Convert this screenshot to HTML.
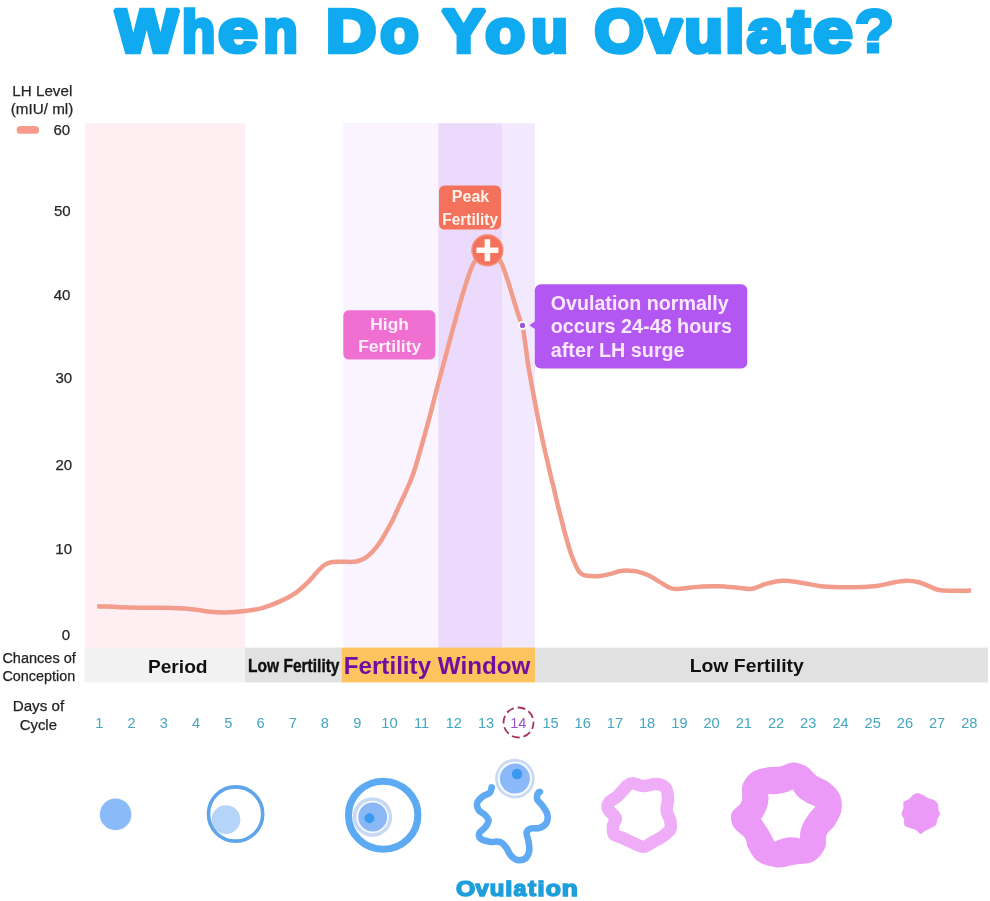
<!DOCTYPE html>
<html lang="en"><head><meta charset="utf-8"><title>When Do You Ovulate?</title>
<style>html,body{margin:0;padding:0;background:#fff}body{width:990px;height:901px;overflow:hidden}svg{display:block}text{font-family:'Liberation Sans', sans-serif}</style></head><body>
<svg width="990" height="901" viewBox="0 0 990 901">
<rect width="990" height="901" fill="#ffffff"/>
<clipPath id="tc"><rect x="100" y="7.3" width="800" height="60"/></clipPath>
<g clip-path="url(#tc)" font-weight="bold" font-size="61.6" fill="#0faaef" stroke="#0faaef" stroke-width="4.6" stroke-linejoin="miter" stroke-miterlimit="1.6" paint-order="stroke">
<text y="52.3"><tspan x="115.54" textLength="62.43" lengthAdjust="spacingAndGlyphs">W</tspan><tspan x="182.11" textLength="33.16" lengthAdjust="spacingAndGlyphs">h</tspan><tspan x="218.10" textLength="39.85" lengthAdjust="spacingAndGlyphs" stroke-width="4.2">e</tspan><tspan x="263.41" textLength="34.15" lengthAdjust="spacingAndGlyphs">n</tspan></text>
<text y="52.3"><tspan x="326.04" textLength="50.28" lengthAdjust="spacingAndGlyphs">D</tspan><tspan x="380.24" textLength="38.41" lengthAdjust="spacingAndGlyphs">o</tspan></text>
<text y="52.3"><tspan x="441.99" textLength="43.25" lengthAdjust="spacingAndGlyphs">Y</tspan><tspan x="485.26" textLength="39.79" lengthAdjust="spacingAndGlyphs">o</tspan><tspan x="531.29" textLength="36.56" lengthAdjust="spacingAndGlyphs">u</tspan></text>
<text y="52.3"><tspan x="594.40" textLength="49.37" lengthAdjust="spacingAndGlyphs">O</tspan><tspan x="645.44" textLength="36.55" lengthAdjust="spacingAndGlyphs">v</tspan><tspan x="684.41" textLength="38.33" lengthAdjust="spacingAndGlyphs">u</tspan><tspan x="725.32" textLength="19.03" lengthAdjust="spacingAndGlyphs">l</tspan><tspan x="746.68" textLength="36.51" lengthAdjust="spacingAndGlyphs" stroke-width="4.2">a</tspan><tspan x="787.99" textLength="22.01" lengthAdjust="spacingAndGlyphs">t</tspan><tspan x="813.33" textLength="39.50" lengthAdjust="spacingAndGlyphs" stroke-width="4.2">e</tspan><tspan x="854.51" textLength="39.73" lengthAdjust="spacingAndGlyphs" stroke-width="3.0">?</tspan></text>
</g>
<rect x="84.7" y="123.2" width="160.3" height="525" fill="#ffeef2"/>
<rect x="343.3" y="123.2" width="95" height="525" fill="#f9f4ff"/>
<rect x="438.3" y="123.2" width="64.2" height="525" fill="#ecdafd"/>
<rect x="502.5" y="123.2" width="32.5" height="525" fill="#f3e9fe"/>
<g font-size="15" fill="#262626" stroke="#262626" stroke-width="0.25">
<text x="12.3" y="95.9" font-size="15" fill="#262626" font-weight="normal" text-anchor="start" textLength="60.0" lengthAdjust="spacingAndGlyphs" >LH Level</text>
<text x="10.8" y="113.7" font-size="15" fill="#262626" font-weight="normal" text-anchor="start" textLength="62.5" lengthAdjust="spacingAndGlyphs" >(mIU/ ml)</text>
<text x="70.2" y="135.2" font-size="15" fill="#262626" font-weight="normal" text-anchor="end" >60</text>
<text x="70.6" y="216.2" font-size="15" fill="#262626" font-weight="normal" text-anchor="end" >50</text>
<text x="70.4" y="299.8" font-size="15" fill="#262626" font-weight="normal" text-anchor="end" >40</text>
<text x="72.1" y="383.1" font-size="15" fill="#262626" font-weight="normal" text-anchor="end" >30</text>
<text x="72.1" y="469.6" font-size="15" fill="#262626" font-weight="normal" text-anchor="end" >20</text>
<text x="72.0" y="554.0" font-size="15" fill="#262626" font-weight="normal" text-anchor="end" >10</text>
<text x="70.2" y="639.8" font-size="15" fill="#262626" font-weight="normal" text-anchor="end" >0</text>
</g>
<rect x="16.6" y="126" width="22.4" height="7.8" rx="3.9" fill="#f79c8c"/>
<rect x="84.7" y="647.6" width="160.3" height="34.8" fill="#f2f2f2"/>
<rect x="245" y="647.6" width="96.6" height="34.8" fill="#e1e1e1"/>
<rect x="341.6" y="647.6" width="193.4" height="34.8" fill="#fdc35f"/>
<rect x="535" y="647.6" width="453" height="34.8" fill="#e1e1e1"/>
<text x="2.4" y="662.7" font-size="15" fill="#222" font-weight="normal" text-anchor="start" textLength="73.4" lengthAdjust="spacingAndGlyphs" stroke="#222" stroke-width="0.25">Chances of</text>
<text x="2.4" y="681.0" font-size="15" fill="#222" font-weight="normal" text-anchor="start" textLength="72.8" lengthAdjust="spacingAndGlyphs" stroke="#222" stroke-width="0.25">Conception</text>
<text x="147.9" y="673.3" font-size="19" fill="#111" font-weight="bold" text-anchor="start" textLength="59.7" lengthAdjust="spacingAndGlyphs" >Period</text>
<text x="248.1" y="672.2" font-size="18" fill="#111" font-weight="bold" text-anchor="start" textLength="91.4" lengthAdjust="spacingAndGlyphs" stroke="#111" stroke-width="0.4">Low Fertility</text>
<text x="343.7" y="673.8" font-size="24.3" fill="#700f9f" font-weight="bold" text-anchor="start" textLength="186.7" lengthAdjust="spacingAndGlyphs" >Fertility Window</text>
<text x="689.7" y="672.0" font-size="19" fill="#111" font-weight="bold" text-anchor="start" textLength="114.1" lengthAdjust="spacingAndGlyphs" >Low Fertility</text>
<text x="12.7" y="710.9" font-size="15" fill="#222" font-weight="normal" text-anchor="start" textLength="51.5" lengthAdjust="spacingAndGlyphs" stroke="#222" stroke-width="0.25">Days of</text>
<text x="19.7" y="729.8" font-size="15" fill="#222" font-weight="normal" text-anchor="start" textLength="37.3" lengthAdjust="spacingAndGlyphs" stroke="#222" stroke-width="0.25">Cycle</text>
<g font-size="14.6" fill="#44a6c0" text-anchor="middle">
<text x="99.4" y="727.7">1</text>
<text x="131.6" y="727.7">2</text>
<text x="163.8" y="727.7">3</text>
<text x="196.1" y="727.7">4</text>
<text x="228.3" y="727.7">5</text>
<text x="260.5" y="727.7">6</text>
<text x="292.7" y="727.7">7</text>
<text x="324.9" y="727.7">8</text>
<text x="357.2" y="727.7">9</text>
<text x="389.4" y="727.7">10</text>
<text x="421.6" y="727.7">11</text>
<text x="453.8" y="727.7">12</text>
<text x="486.0" y="727.7">13</text>
<text x="518.3" y="727.9" fill="#9a52c6">14</text>
<text x="550.5" y="727.7">15</text>
<text x="582.7" y="727.7">16</text>
<text x="614.9" y="727.7">17</text>
<text x="647.1" y="727.7">18</text>
<text x="679.4" y="727.7">19</text>
<text x="711.6" y="727.7">20</text>
<text x="743.8" y="727.7">21</text>
<text x="776.0" y="727.7">22</text>
<text x="808.2" y="727.7">23</text>
<text x="840.5" y="727.7">24</text>
<text x="872.7" y="727.7">25</text>
<text x="904.9" y="727.7">26</text>
<text x="937.1" y="727.7">27</text>
<text x="969.3" y="727.7">28</text>
</g>
<circle cx="518.5" cy="722.5" r="15" fill="none" stroke="#a83264" stroke-width="1.8" stroke-dasharray="8 3.78" stroke-dashoffset="1.4"/>
<path d="M97.2 606.2C102.6 606.4 118.5 607.3 129.4 607.6C140.3 607.9 152.8 607.6 162.8 607.8C172.8 608.0 182.0 608.3 189.4 608.9C196.8 609.5 201.3 610.8 207.2 611.4C213.1 612.0 218.7 612.4 225.0 612.4C231.3 612.4 238.7 611.9 245.0 611.1C251.3 610.3 256.9 609.5 262.8 607.8C268.7 606.1 275.1 603.6 280.6 601.1C286.2 598.6 291.2 596.1 296.1 592.6C301.0 589.1 306.1 584.1 309.8 580.4C313.5 576.7 315.7 573.2 318.3 570.5C320.9 567.8 323.0 565.8 325.4 564.4C327.8 563.0 329.3 562.4 332.4 562.0C335.4 561.6 340.6 561.8 343.7 561.8C346.8 561.8 348.7 562.0 351.0 561.9C353.3 561.8 355.0 561.8 357.3 561.2C359.6 560.6 362.2 559.8 364.7 558.3C367.1 556.8 369.6 554.8 372.0 552.3C374.4 549.8 376.9 546.8 379.3 543.3C381.7 539.8 384.4 535.0 386.6 531.1C388.8 527.2 390.7 524.2 392.7 520.1C394.7 516.0 396.8 510.9 398.8 506.6C400.8 502.3 402.6 498.7 404.5 494.5C406.4 490.3 408.5 486.0 410.3 481.5C412.1 477.0 413.5 473.2 415.3 467.5C417.1 461.8 419.2 454.0 421.1 447.5C423.0 441.0 424.8 434.4 426.5 428.3C428.2 422.2 429.6 417.1 431.1 411.2C432.7 405.3 434.4 398.2 435.8 392.8C437.2 387.4 438.1 384.2 439.6 378.5C441.1 372.8 442.7 367.0 445.0 358.5C447.3 350.0 450.6 337.3 453.3 327.5C456.0 317.7 458.5 308.2 461.1 299.5C463.7 290.8 466.7 281.0 468.8 275.0C470.9 269.0 471.6 266.9 473.5 263.5C475.4 260.1 477.7 256.7 480.0 254.5C482.3 252.3 485.0 250.5 487.5 250.5C490.0 250.5 492.7 252.4 495.0 254.5C497.3 256.6 499.4 259.0 501.5 263.3C503.6 267.6 505.6 274.2 507.7 280.4C509.8 286.6 512.0 294.4 513.9 300.6C515.8 306.8 517.8 313.1 519.3 317.7C520.8 322.3 521.8 323.8 522.8 328.0C523.8 332.2 524.4 337.7 525.2 343.0C526.0 348.3 526.5 353.8 527.4 360.0C528.3 366.2 529.5 372.9 530.8 380.0C532.1 387.1 533.6 395.1 535.0 402.6C536.4 410.1 537.9 417.9 539.4 425.2C540.9 432.5 542.5 439.7 544.0 446.6C545.5 453.5 547.4 461.1 548.6 466.5C549.9 471.9 550.7 475.8 551.5 479.0C552.3 482.2 552.3 481.9 553.3 486.0C554.3 490.1 555.8 497.3 557.3 503.3C558.8 509.3 560.5 515.9 562.0 521.9C563.5 527.9 564.9 533.4 566.6 539.2C568.3 545.0 570.3 551.9 572.0 556.6C573.7 561.3 575.3 564.6 576.6 567.2C577.9 569.9 578.7 571.2 579.9 572.5C581.1 573.8 582.1 574.6 583.9 575.2C585.7 575.8 587.9 576.0 590.6 576.1C593.3 576.2 596.6 576.3 599.9 575.9C603.2 575.5 607.4 574.7 610.6 573.9C613.8 573.1 616.3 571.9 619.0 571.3C621.7 570.7 623.6 570.3 626.7 570.4C629.8 570.5 634.1 570.7 637.8 571.6C641.5 572.5 645.2 573.8 648.9 575.6C652.6 577.4 656.7 580.2 660.0 582.2C663.3 584.2 666.3 586.2 668.9 587.4C671.5 588.5 672.6 589.0 675.6 589.1C678.6 589.2 682.3 588.4 686.7 588.0C691.1 587.6 697.2 586.9 702.2 586.6C707.2 586.3 711.8 586.1 717.0 586.2C722.2 586.3 728.0 586.8 733.3 587.3C738.6 587.8 745.2 588.8 748.9 588.9C752.6 589.0 752.6 588.7 755.6 587.8C758.6 586.9 762.1 584.8 766.7 583.6C771.3 582.4 777.6 580.9 783.3 580.7C789.0 580.6 794.8 581.8 801.1 582.7C807.4 583.6 813.3 585.4 821.1 586.2C828.9 587.0 838.5 587.3 847.8 587.3C857.1 587.3 869.3 586.8 876.7 586.0C884.1 585.2 887.4 583.6 892.2 582.7C897.0 581.8 901.2 580.8 905.6 580.7C910.0 580.6 914.8 581.2 918.9 582.2C923.0 583.2 926.7 585.4 930.0 586.7C933.3 588.0 935.2 589.3 938.9 590.0C942.6 590.7 946.8 590.6 952.2 590.7C957.6 590.8 968.0 590.5 971.1 590.4" fill="none" stroke="#f29c8b" stroke-width="4.5" stroke-linejoin="round"/>
<rect x="439" y="185.5" width="62" height="44" rx="5.5" fill="#f4725b"/>
<text x="470.5" y="202.2" font-size="16" fill="#fff3ee" font-weight="bold" text-anchor="middle" >Peak</text>
<text x="442.3" y="224.9" font-size="16" fill="#fff3ee" font-weight="bold" text-anchor="start" textLength="55.7" lengthAdjust="spacingAndGlyphs" >Fertility</text>
<circle cx="487.4" cy="250.3" r="16.2" fill="#f5937e"/>
<circle cx="487.4" cy="250.3" r="14.8" fill="#f4725b"/>
<path d="M476.4 247.5h8.2v-8.2h5.6v8.2h8.2v5.6h-8.2v8.2h-5.6v-8.2h-8.2z" fill="#fffaf6"/>
<rect x="343.3" y="310.3" width="92.1" height="49.3" rx="5.5" fill="#ef70d0"/>
<text x="389.6" y="330.3" font-size="17.4" fill="#ffeefa" font-weight="bold" text-anchor="middle" textLength="38.6" lengthAdjust="spacingAndGlyphs" >High</text>
<text x="358.2" y="352.0" font-size="17.4" fill="#ffeefa" font-weight="bold" text-anchor="start" textLength="63.0" lengthAdjust="spacingAndGlyphs" >Fertility</text>
<path d="M529.3 325.2L536 320.7V329.7Z" fill="#b357f3"/>
<rect x="534.8" y="284.3" width="212.5" height="84.1" rx="6" fill="#b357f3"/>
<text x="550.8" y="309.7" font-size="19.5" fill="#fde8ff" font-weight="bold" text-anchor="start" textLength="177.9" lengthAdjust="spacingAndGlyphs" >Ovulation normally</text>
<text x="550.8" y="333.0" font-size="19.5" fill="#fde8ff" font-weight="bold" text-anchor="start" textLength="181.2" lengthAdjust="spacingAndGlyphs" >occurs 24-48 hours</text>
<text x="550.8" y="356.5" font-size="19.5" fill="#fde8ff" font-weight="bold" text-anchor="start" textLength="133.8" lengthAdjust="spacingAndGlyphs" >after LH surge</text>
<circle cx="522.5" cy="325.4" r="4.6" fill="#ffffff"/>
<circle cx="522.5" cy="325.4" r="2.7" fill="#9a5ad8"/>
<circle cx="115.6" cy="814.4" r="15.8" fill="#8abaf8"/>
<circle cx="226" cy="819.6" r="14.4" fill="#b5d4f9"/>
<circle cx="235.6" cy="814" r="27.1" fill="none" stroke="#5fa5ea" stroke-width="3.6"/>
<ellipse cx="383.2" cy="815.2" rx="34.7" ry="34" fill="none" stroke="#5baaf2" stroke-width="7.1"/>
<circle cx="372.5" cy="817" r="19.7" fill="#c6d8f4"/>
<circle cx="372.5" cy="817" r="16.3" fill="#f4f8ff"/>
<circle cx="372.7" cy="817" r="14.4" fill="#8ab8f6"/>
<circle cx="369.4" cy="818.3" r="5" fill="#3a9af2"/>
<path d="M491.7 787.3C491.4 788.2 491.5 791.0 490.0 792.6C488.5 794.2 484.7 794.9 482.6 796.6C480.5 798.3 478.0 800.4 477.3 802.6C476.6 804.8 477.3 807.8 478.6 809.9C479.9 812.0 483.6 813.4 485.3 815.2C487.0 817.0 488.6 818.6 488.6 820.6C488.6 822.6 486.9 825.1 485.3 827.2C483.8 829.3 480.0 831.2 479.3 833.2C478.6 835.2 479.4 837.8 481.3 839.2C483.2 840.7 487.5 841.5 490.6 841.9C493.7 842.3 497.3 841.0 499.9 841.9C502.4 842.8 504.1 845.0 505.9 847.2C507.7 849.4 508.7 853.1 510.6 855.2C512.5 857.3 514.9 859.4 517.3 859.9C519.7 860.4 523.2 860.0 525.2 858.5C527.2 857.0 528.6 854.0 529.2 851.2C529.8 848.4 529.0 845.0 528.6 841.9C528.2 838.8 526.3 834.8 526.6 832.6C526.9 830.4 528.4 829.4 530.6 828.6C532.8 827.8 537.2 828.9 539.9 827.9C542.6 826.9 545.4 824.9 546.6 822.6C547.8 820.3 547.9 816.7 547.2 813.9C546.5 811.1 544.3 808.3 542.6 805.9C540.9 803.5 538.0 801.4 537.2 799.3C536.4 797.2 537.5 794.5 537.9 793.3C538.3 792.1 539.6 792.1 539.9 791.9" fill="none" stroke="#5faaf2" stroke-width="6.6" stroke-linecap="round" stroke-linejoin="round"/>
<circle cx="514.9" cy="778.6" r="19.8" fill="#c9d9f2"/>
<circle cx="514.9" cy="778.6" r="17.2" fill="#f4f8ff"/>
<circle cx="514.9" cy="778.6" r="15" fill="#8ab8f8"/>
<circle cx="517" cy="774" r="5.2" fill="#3a9af2"/>
<path d="M632.7 783.2C635.4 783.3 639.5 786.0 643.5 786.1C647.5 786.2 652.8 783.5 656.5 783.9C660.2 784.2 664.0 785.7 665.9 788.2C667.8 790.7 667.9 795.4 668.0 799.1C668.1 802.8 666.2 807.0 666.6 810.6C667.0 814.2 669.6 817.6 670.2 820.7C670.8 823.8 671.5 826.8 670.2 829.4C668.9 832.0 665.3 834.4 662.3 836.6C659.3 838.8 655.3 840.7 652.2 842.4C649.1 844.1 646.6 846.6 643.5 846.7C640.4 846.8 636.9 844.6 633.4 843.1C629.9 841.6 625.9 839.5 622.6 838.0C619.4 836.5 615.5 836.6 613.9 834.4C612.3 832.2 612.9 827.8 613.2 825.0C613.5 822.2 616.6 820.4 615.8 817.8C614.9 815.2 609.2 811.7 608.1 809.2C607.0 806.7 607.2 805.0 608.9 802.7C610.6 800.4 615.1 798.4 618.2 795.5C621.3 792.6 625.2 787.4 627.6 785.4C630.0 783.4 630.1 783.1 632.7 783.2Z" fill="none" stroke="#efadf8" stroke-width="12.5" stroke-linejoin="round"/>
<path d="M793.2 762.5C797.7 762.5 802.7 764.4 806.6 766.6C810.5 768.8 812.7 773.0 816.6 775.8C820.5 778.6 826.0 780.1 829.9 783.3C833.8 786.5 838.0 790.5 839.9 794.9C841.8 799.3 842.3 804.9 841.5 809.9C840.7 814.9 837.4 820.7 834.9 824.9C832.4 829.1 828.3 831.0 826.6 834.9C824.9 838.8 827.1 843.8 824.9 848.2C822.7 852.6 818.5 858.7 813.2 861.5C807.9 864.3 799.3 863.9 793.2 864.9C787.1 865.9 782.4 868.0 776.6 867.4C770.8 866.8 763.0 864.7 758.3 861.5C753.6 858.3 750.5 852.1 748.3 848.2C746.1 844.3 747.5 841.8 745.0 838.2C742.5 834.6 735.5 830.8 733.3 826.6C731.1 822.5 730.2 817.5 731.6 813.3C733.0 809.1 739.8 806.3 741.6 801.6C743.4 796.9 740.8 789.9 742.5 785.0C744.2 780.1 747.6 775.4 751.6 772.5C755.6 769.6 761.9 768.5 766.6 767.5C771.3 766.5 775.5 767.4 779.9 766.6C784.3 765.8 788.8 762.5 793.2 762.5Z M792.7 789.5Q798.7 801.0 815.5 806.4Q798.7 823.9 800.0 838.6Q788.2 834.6 774.5 841.8Q769.5 830.5 760.9 819.1Q770.0 807.0 768.2 794.1Q782.3 795.0 792.7 789.5Z" fill="#ec9af8" fill-rule="evenodd"/>
<path d="M917.5 793.0C918.8 793.0 921.6 794.3 923.0 795.0C924.4 795.7 926.5 797.3 928.0 798.0C929.5 798.7 932.7 799.2 934.0 800.0C935.3 800.8 937.4 802.7 938.0 804.0C938.6 805.3 938.1 808.7 938.4 810.0C938.7 811.3 940.1 812.8 940.0 814.0C939.9 815.2 937.9 817.5 937.4 819.0C936.9 820.5 936.9 823.8 936.0 825.0C935.1 826.2 932.5 827.2 931.0 828.0C929.5 828.8 926.4 830.2 925.0 831.0C923.6 831.8 921.7 834.1 920.5 834.0C919.3 833.9 917.4 830.8 916.0 830.0C914.6 829.2 911.5 828.6 910.0 828.0C908.5 827.4 905.3 826.7 904.5 825.5C903.7 824.3 904.4 820.5 904.0 819.0C903.6 817.5 901.6 815.5 901.5 814.0C901.4 812.5 903.2 809.6 903.5 808.0C903.8 806.4 902.8 803.2 903.5 802.0C904.2 800.8 907.7 799.9 909.0 799.0C910.3 798.1 911.9 795.8 913.0 795.0C914.1 794.2 916.2 793.0 917.5 793.0Z" fill="#ec9af8"/>
<clipPath id="oc"><rect x="450" y="880.3" width="140" height="21"/></clipPath>
<g clip-path="url(#oc)"><text y="895.7" font-size="21.4" font-weight="bold" fill="#1e9edb" stroke="#1e9edb" stroke-width="1.5" stroke-linejoin="miter" stroke-miterlimit="1.6" paint-order="stroke"><tspan x="455.93" textLength="19.25" lengthAdjust="spacingAndGlyphs">O</tspan><tspan x="475.56" textLength="13.30" lengthAdjust="spacingAndGlyphs">v</tspan><tspan x="489.87" textLength="14.55" lengthAdjust="spacingAndGlyphs">u</tspan><tspan x="505.27" textLength="7.09" lengthAdjust="spacingAndGlyphs">l</tspan><tspan x="513.57" textLength="12.93" lengthAdjust="spacingAndGlyphs">a</tspan><tspan x="528.05" textLength="8.09" lengthAdjust="spacingAndGlyphs">t</tspan><tspan x="537.57" textLength="7.09" lengthAdjust="spacingAndGlyphs">i</tspan><tspan x="545.68" textLength="15.14" lengthAdjust="spacingAndGlyphs">o</tspan><tspan x="561.82" textLength="16.06" lengthAdjust="spacingAndGlyphs">n</tspan></text></g>
</svg></body></html>
